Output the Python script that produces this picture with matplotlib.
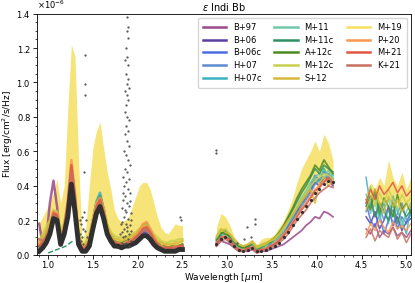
import numpy as np
import matplotlib
matplotlib.use("Agg")
import matplotlib.pyplot as plt
from matplotlib.lines import Line2D
from matplotlib.ticker import AutoMinorLocator

# wavelength grids [um] for the three spectral chunks
wl1 = np.round(np.arange(0.90, 2.501, 0.04), 2)
wl2 = np.round(np.arange(2.88, 4.181, 0.05), 2)
wl3 = np.round(np.arange(4.55, 5.051, 0.05), 2)

names = ["B+97", "B+06", "B+06c", "H+07", "H+07c", "M+11", "M+11c",
         "A+12c", "M+12c", "S+12", "M+19", "P+20", "M+21", "K+21"]
colors = ["#9a4a8a", "#5b3f9e", "#4a6ee0", "#5b8bd0", "#3bb0c0", "#70c8a8", "#2e9060",
          "#4a8a20", "#c8d050", "#d8b838", "#f5e060", "#f89850", "#e05545", "#c87060"]

# flux in units of 1e-6 erg/cm2/s/Hz
flux1 = {
    "B+97": [0.18,0.06,0.09,0.30,0.43,0.28,0.08,0.11,0.24,0.40,0.26,0.07,0.03,0.03,0.06,0.14,0.23,0.27,0.20,0.11,0.07,0.05,0.04,0.05,0.05,0.06,0.07,0.08,0.10,0.13,0.12,0.10,0.06,0.04,0.03,0.02,0.02,0.03,0.02,0.03,0.03],
    "B+06": [0.03,0.05,0.08,0.14,0.23,0.21,0.07,0.13,0.25,0.44,0.28,0.07,0.02,0.03,0.06,0.17,0.26,0.30,0.22,0.13,0.08,0.06,0.05,0.05,0.06,0.06,0.07,0.08,0.10,0.13,0.13,0.10,0.07,0.05,0.03,0.03,0.02,0.03,0.03,0.03,0.04],
    "B+06c": [0.04,0.06,0.09,0.15,0.25,0.22,0.08,0.14,0.27,0.46,0.30,0.08,0.03,0.03,0.07,0.18,0.29,0.33,0.24,0.14,0.09,0.06,0.06,0.05,0.06,0.07,0.07,0.09,0.11,0.14,0.14,0.11,0.07,0.05,0.04,0.03,0.03,0.03,0.03,0.04,0.04],
    "H+07": [0.03,0.05,0.08,0.13,0.22,0.20,0.07,0.12,0.24,0.43,0.27,0.07,0.02,0.02,0.06,0.16,0.27,0.31,0.23,0.13,0.08,0.05,0.05,0.05,0.05,0.06,0.07,0.08,0.10,0.12,0.12,0.10,0.07,0.04,0.03,0.02,0.02,0.02,0.03,0.03,0.03],
    "H+07c": [0.05,0.07,0.10,0.16,0.24,0.23,0.09,0.15,0.28,0.45,0.31,0.09,0.03,0.04,0.08,0.20,0.31,0.36,0.26,0.15,0.10,0.07,0.06,0.06,0.07,0.07,0.08,0.10,0.12,0.15,0.15,0.12,0.08,0.05,0.04,0.03,0.03,0.04,0.04,0.04,0.05],
    "M+11": [0.04,0.06,0.09,0.15,0.24,0.22,0.08,0.14,0.28,0.47,0.30,0.08,0.03,0.03,0.07,0.19,0.30,0.34,0.25,0.14,0.09,0.06,0.06,0.05,0.06,0.07,0.08,0.09,0.12,0.15,0.16,0.12,0.08,0.05,0.04,0.03,0.03,0.03,0.04,0.04,0.04],
    "M+11c": [0.05,0.07,0.10,0.17,0.25,0.24,0.10,0.16,0.29,0.46,0.31,0.09,0.04,0.04,0.08,0.20,0.30,0.34,0.27,0.16,0.10,0.07,0.07,0.06,0.07,0.08,0.09,0.11,0.13,0.16,0.17,0.13,0.09,0.06,0.05,0.04,0.04,0.04,0.05,0.05,0.05],
    "A+12c": [0.06,0.08,0.11,0.17,0.24,0.23,0.10,0.16,0.28,0.44,0.30,0.09,0.04,0.05,0.09,0.19,0.29,0.33,0.26,0.16,0.11,0.08,0.07,0.07,0.08,0.08,0.09,0.11,0.14,0.17,0.18,0.14,0.10,0.07,0.05,0.05,0.04,0.05,0.05,0.05,0.06],
    "M+12c": [0.08,0.12,0.16,0.20,0.26,0.25,0.14,0.19,0.30,0.45,0.32,0.12,0.06,0.07,0.12,0.21,0.30,0.33,0.27,0.18,0.13,0.11,0.10,0.10,0.10,0.11,0.12,0.13,0.15,0.17,0.17,0.15,0.12,0.10,0.08,0.07,0.07,0.08,0.08,0.09,0.09],
    "S+12": [0.07,0.10,0.14,0.18,0.25,0.24,0.12,0.17,0.29,0.47,0.31,0.10,0.05,0.06,0.10,0.20,0.29,0.32,0.26,0.17,0.12,0.09,0.09,0.08,0.09,0.10,0.11,0.12,0.14,0.16,0.16,0.14,0.11,0.08,0.07,0.06,0.06,0.06,0.07,0.07,0.08],
    "P+20": [0.06,0.08,0.10,0.16,0.25,0.24,0.09,0.16,0.32,0.55,0.36,0.10,0.04,0.04,0.08,0.19,0.29,0.33,0.26,0.15,0.10,0.07,0.07,0.06,0.07,0.08,0.09,0.11,0.14,0.18,0.19,0.15,0.10,0.06,0.05,0.04,0.04,0.04,0.05,0.05,0.05],
    "M+21": [0.05,0.07,0.10,0.15,0.24,0.23,0.08,0.15,0.30,0.52,0.34,0.09,0.03,0.04,0.08,0.18,0.28,0.32,0.25,0.14,0.09,0.07,0.06,0.06,0.06,0.07,0.08,0.10,0.12,0.15,0.16,0.13,0.09,0.06,0.04,0.04,0.04,0.04,0.04,0.05,0.05],
    "K+21": [0.09,0.08,0.09,0.14,0.22,0.21,0.07,0.14,0.28,0.48,0.31,0.08,0.03,0.03,0.07,0.17,0.27,0.30,0.23,0.13,0.08,0.06,0.05,0.05,0.06,0.06,0.07,0.09,0.11,0.14,0.14,0.12,0.08,0.05,0.04,0.03,0.03,0.03,0.04,0.04,0.04],
}
flux2 = {
    "B+97": [0.05,0.08,0.07,0.06,0.04,0.02,0.02,0.02,0.03,0.01,0.02,0.02,0.03,0.04,0.05,0.06,0.08,0.10,0.12,0.14,0.17,0.19,0.22,0.21,0.25,0.24,0.22],
    "B+06": [0.07,0.10,0.11,0.07,0.05,0.03,0.03,0.03,0.05,0.02,0.03,0.04,0.05,0.06,0.09,0.12,0.16,0.20,0.25,0.30,0.33,0.37,0.42,0.40,0.45,0.44,0.40],
    "B+06c": [0.08,0.11,0.10,0.09,0.05,0.04,0.03,0.04,0.05,0.03,0.03,0.04,0.06,0.07,0.10,0.13,0.17,0.22,0.27,0.31,0.35,0.40,0.46,0.43,0.48,0.46,0.44],
    "H+07": [0.06,0.09,0.12,0.08,0.06,0.03,0.02,0.04,0.04,0.02,0.03,0.03,0.05,0.06,0.08,0.11,0.15,0.19,0.24,0.28,0.32,0.36,0.41,0.44,0.43,0.47,0.42],
    "H+07c": [0.10,0.08,0.13,0.09,0.06,0.04,0.03,0.03,0.06,0.02,0.04,0.05,0.05,0.08,0.10,0.14,0.18,0.21,0.27,0.30,0.36,0.39,0.44,0.42,0.50,0.45,0.46],
    "M+11": [0.09,0.12,0.11,0.10,0.07,0.04,0.04,0.05,0.06,0.03,0.04,0.05,0.07,0.08,0.11,0.14,0.19,0.23,0.28,0.33,0.37,0.42,0.45,0.47,0.44,0.49,0.45],
    "M+11c": [0.08,0.12,0.14,0.10,0.07,0.05,0.04,0.05,0.06,0.03,0.04,0.06,0.07,0.09,0.12,0.16,0.21,0.26,0.31,0.36,0.40,0.45,0.50,0.47,0.52,0.50,0.48],
    "A+12c": [0.09,0.13,0.12,0.11,0.08,0.05,0.04,0.05,0.07,0.04,0.05,0.06,0.08,0.10,0.13,0.17,0.22,0.27,0.33,0.38,0.42,0.46,0.52,0.49,0.55,0.51,0.47],
    "M+12c": [0.10,0.14,0.15,0.12,0.08,0.06,0.05,0.06,0.07,0.04,0.05,0.06,0.08,0.09,0.12,0.15,0.19,0.24,0.28,0.32,0.36,0.40,0.43,0.45,0.47,0.46,0.44],
    "S+12": [0.11,0.15,0.13,0.12,0.09,0.06,0.05,0.06,0.08,0.05,0.06,0.07,0.08,0.10,0.12,0.16,0.20,0.23,0.27,0.31,0.34,0.38,0.30,0.42,0.45,0.40,0.43],
    "P+20": [0.07,0.10,0.11,0.08,0.05,0.03,0.03,0.03,0.05,0.02,0.03,0.04,0.05,0.07,0.09,0.12,0.15,0.19,0.23,0.27,0.30,0.34,0.38,0.40,0.43,0.44,0.42],
    "M+21": [0.06,0.10,0.10,0.09,0.05,0.03,0.02,0.04,0.04,0.02,0.03,0.03,0.05,0.06,0.08,0.11,0.14,0.18,0.22,0.26,0.29,0.33,0.37,0.39,0.42,0.45,0.41],
    "K+21": [0.05,0.08,0.09,0.07,0.04,0.02,0.02,0.03,0.04,0.01,0.02,0.03,0.04,0.05,0.07,0.09,0.12,0.16,0.20,0.23,0.26,0.30,0.33,0.36,0.38,0.40,0.39],
}
flux3 = {
    "B+97": [0.15,0.12,0.18,0.10,0.14,0.12,0.16,0.11,0.13,0.10,0.14],
    "B+06": [0.22,0.18,0.25,0.15,0.20,0.28,0.17,0.22,0.14,0.19,0.21],
    "B+06c": [0.30,0.20,0.16,0.24,0.12,0.20,0.26,0.15,0.22,0.18,0.25],
    "H+07": [0.25,0.30,0.22,0.28,0.20,0.26,0.18,0.24,0.30,0.20,0.23],
    "H+07c": [0.45,0.28,0.35,0.22,0.30,0.18,0.34,0.25,0.20,0.12,0.28],
    "M+11": [0.35,0.24,0.30,0.20,0.27,0.32,0.22,0.28,0.16,0.25,0.30],
    "M+11c": [0.28,0.34,0.22,0.30,0.25,0.20,0.30,0.18,0.27,0.22,0.26],
    "A+12c": [0.32,0.26,0.38,0.24,0.33,0.28,0.22,0.35,0.26,0.30,0.24],
    "M+12c": [0.30,0.40,0.28,0.36,0.30,0.38,0.32,0.27,0.35,0.30,0.33],
    "S+12": [0.26,0.33,0.38,0.30,0.24,0.34,0.28,0.32,0.25,0.29,0.27],
    "P+20": [0.12,0.18,0.14,0.20,0.16,0.13,0.19,0.15,0.17,0.14,0.18],
    "M+21": [0.30,0.38,0.32,0.40,0.35,0.38,0.42,0.36,0.40,0.34,0.37],
    "K+21": [0.10,0.15,0.08,0.14,0.12,0.10,0.16,0.09,0.13,0.07,0.12],
}

# M+19 grid spans a wide range -> lower / upper envelope
m19_lo1 = [0.03,0.05,0.08,0.13,0.22,0.21,0.07,0.13,0.26,0.45,0.30,0.07,0.02,0.03,0.07,0.18,0.28,0.32,0.24,0.13,0.08,0.06,0.05,0.05,0.06,0.06,0.07,0.08,0.11,0.14,0.14,0.11,0.07,0.05,0.04,0.03,0.03,0.03,0.03,0.04,0.04]
m19_hi1 = [0.18,0.22,0.26,0.30,0.36,0.44,0.30,0.40,0.85,1.22,1.15,0.55,0.08,0.15,0.40,0.62,0.72,0.77,0.62,0.48,0.38,0.26,0.21,0.19,0.20,0.22,0.28,0.34,0.40,0.42,0.42,0.38,0.30,0.22,0.16,0.13,0.12,0.15,0.18,0.17,0.17]
m19_lo2 = [0.06,0.09,0.10,0.08,0.05,0.03,0.02,0.03,0.04,0.02,0.03,0.04,0.05,0.06,0.08,0.11,0.15,0.19,0.24,0.29,0.33,0.38,0.42,0.44,0.46,0.47,0.45]
m19_hi2 = [0.16,0.24,0.22,0.17,0.10,0.07,0.05,0.06,0.08,0.05,0.09,0.10,0.10,0.12,0.16,0.20,0.26,0.33,0.42,0.50,0.55,0.60,0.66,0.60,0.70,0.65,0.55]
m19_lo3 = [0.25,0.28,0.30,0.26,0.30,0.32,0.28,0.30,0.27,0.30,0.28]
m19_hi3 = [0.35,0.42,0.38,0.45,0.40,0.55,0.45,0.40,0.48,0.38,0.45]

# low-res green model piece under the J-band peak
green_wl = [1.00, 1.05, 1.10, 1.15, 1.20, 1.25, 1.28]
green_flux = [0.01, 0.02, 0.03, 0.04, 0.05, 0.07, 0.08]

# observed spectrum
obs_flux1 = [0.02,0.04,0.07,0.12,0.21,0.20,0.06,0.12,0.22,0.41,0.25,0.06,0.02,0.02,0.05,0.15,0.24,0.28,0.21,0.12,0.08,0.05,0.05,0.04,0.05,0.05,0.06,0.07,0.09,0.11,0.11,0.09,0.06,0.04,0.03,0.02,0.02,0.02,0.02,0.03,0.03]
obs_flux2 = [0.06,0.09,0.10,0.08,0.05,0.03,0.02,0.03,0.04,0.02,0.02,0.03,0.04,0.05,0.07,0.10,0.13,0.17,0.21,0.25,0.28,0.32,0.36,0.38,0.41,0.43,0.42]

# noisy points in telluric regions
noise_wl = [1.40,1.41,1.41,1.41,1.38,1.37,1.39,1.36,1.38,1.40,1.42,1.37,1.39,1.41,1.43,1.36,
            1.88,1.89,1.88,1.89,1.87,1.88,1.86,1.89,1.87,1.89,1.88,1.90,1.86,1.88,1.89,1.87,
            1.86,1.88,1.90,1.87,1.89,1.86,1.88,1.90,1.85,1.87,1.89,1.91,1.86,1.88,1.84,1.90,
            1.87,1.85,1.89,1.91,1.86,1.84,1.88,1.90,1.83,1.87,1.92,1.85,1.89,1.83,1.87,1.91,
            1.85,1.88,1.82,1.90,1.86,1.84,1.89,1.92,1.83,1.87,1.85,1.90,1.88,1.86,1.91,1.84,
            1.93,1.80,1.81,1.93,2.47,2.48,2.87,2.87,3.31,3.31,3.22,3.11,3.26,3.19]
noise_flux = [0.48,1.16,0.99,0.93,0.22,0.18,0.15,0.12,0.10,0.25,0.20,0.08,0.06,0.14,0.10,0.20,
              1.38,1.32,1.30,1.26,1.20,1.15,1.13,1.10,1.05,1.02,0.99,0.97,0.95,0.93,0.90,0.87,
              0.83,0.80,0.78,0.75,0.72,0.70,0.66,0.63,0.60,0.58,0.55,0.52,0.50,0.48,0.45,0.44,
              0.42,0.40,0.38,0.36,0.34,0.32,0.30,0.28,0.27,0.25,0.24,0.22,0.21,0.19,0.18,0.17,
              0.15,0.14,0.13,0.12,0.11,0.10,0.09,0.08,0.07,0.07,0.06,0.05,0.16,0.26,0.31,0.36,
              0.20,0.12,0.18,0.14,0.22,0.20,0.61,0.59,0.21,0.18,0.16,0.07,0.10,0.09]

scale = 1e-6

fig, ax = plt.subplots(figsize=(4.15, 2.83), dpi=100)
fig.subplots_adjust(left=0.09, right=0.99, bottom=0.1, top=0.952)

for name, col in zip(names, colors):
    if name == "M+19":
        ax.fill_between(wl1, np.array(m19_lo1)*scale, np.array(m19_hi1)*scale, color=col, alpha=0.85, lw=0, zorder=1)
        ax.fill_between(wl2, np.array(m19_lo2)*scale, np.array(m19_hi2)*scale, color=col, alpha=0.85, lw=0, zorder=1)
        ax.fill_between(wl3, np.array(m19_lo3)*scale, np.array(m19_hi3)*scale, color=col, alpha=0.85, lw=0, zorder=1)
        continue
    ax.plot(wl1, np.array(flux1[name])*scale, color=col, lw=1.8, alpha=0.85, zorder=2)
    ax.plot(wl2, np.array(flux2[name])*scale, color=col, lw=1.3, alpha=0.85, zorder=2)
    ax.plot(wl3, np.array(flux3[name])*scale, color=col, lw=1.1, alpha=0.85, zorder=2)

ax.plot(green_wl, np.array(green_flux)*scale, color="#2e9060", lw=1.0, ls="--", zorder=2)

# data
ax.plot(wl1, np.array(obs_flux1)*scale, color="#303030", lw=3.5, zorder=4)
ax.plot(wl2, np.array(obs_flux2)*scale, ".", color="#303030", ms=2.5, zorder=4)
ax.plot(noise_wl, np.array(noise_flux)*scale, ".", color="#505050", ms=1.2, zorder=4)

ax.set_xlim(0.88, 5.05)
ax.set_ylim(0, 1.4e-6)
ax.xaxis.set_minor_locator(AutoMinorLocator(5))
ax.yaxis.set_minor_locator(AutoMinorLocator(4))
ax.yaxis.get_major_formatter().set_useMathText(True)
ax.tick_params(which="major", labelsize=6, length=3, width=0.6, pad=1.5)
ax.tick_params(which="minor", length=1.5, width=0.5)
for sp in ax.spines.values():
    sp.set_linewidth(0.6)
ax.yaxis.offsetText.set_fontsize(6)
ax.set_xlabel(r"Wavelength [$\mu$m]", fontsize=6.5, labelpad=0.5)
ax.set_ylabel(r"Flux [erg/cm$^2$/s/Hz]", fontsize=6.5, labelpad=1)
ax.set_title(r"$\varepsilon$ Indi Bb", fontsize=7, pad=2)

handles = [Line2D([0], [0], color=c, lw=1.8) for c in colors]
ax.legend(handles, names, ncol=3, fontsize=6, loc="upper right", handlelength=2.8,
          columnspacing=1.6, labelspacing=0.45, borderpad=0.6)

plt.savefig("out.png", dpi=100)
